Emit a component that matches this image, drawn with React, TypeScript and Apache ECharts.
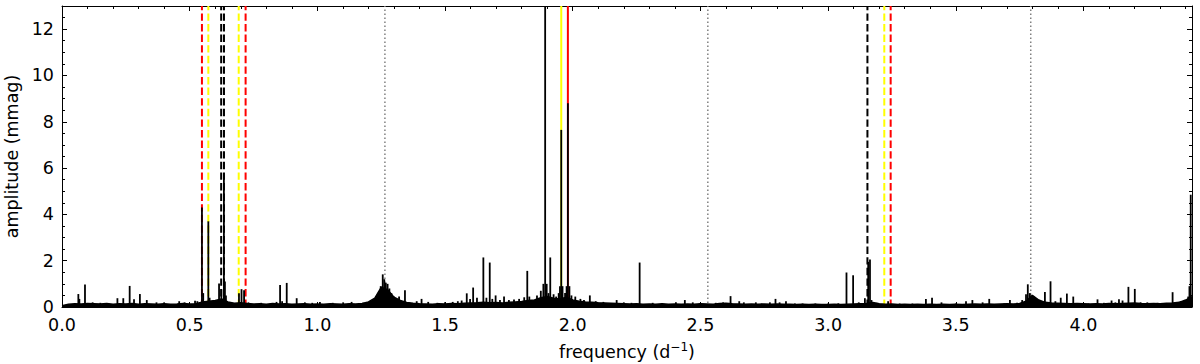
import React, { useEffect, useRef } from "react";
import * as echarts from "echarts";

// Noise floor of the amplitude spectrum: [frequency (d^-1), amplitude (mmag)]
const baseline: [number, number][] = [
  [0.000, 0.06], [0.025, 0.12], [0.050, 0.14], [0.075, 0.13], [0.100, 0.15], [0.125, 0.14], [0.150, 0.13], [0.175, 0.15],
  [0.200, 0.12], [0.225, 0.14], [0.250, 0.13], [0.275, 0.15], [0.300, 0.12], [0.325, 0.14], [0.350, 0.13], [0.375, 0.12],
  [0.400, 0.14], [0.425, 0.12], [0.450, 0.13], [0.475, 0.15], [0.500, 0.13], [0.525, 0.14], [0.550, 0.22], [0.575, 0.25],
  [0.600, 0.28], [0.625, 0.35], [0.650, 0.22], [0.675, 0.16], [0.700, 0.18], [0.725, 0.15], [0.750, 0.13], [0.775, 0.14],
  [0.800, 0.12], [0.825, 0.15], [0.850, 0.13], [0.875, 0.14], [0.900, 0.12], [0.925, 0.13], [0.950, 0.14], [0.975, 0.12],
  [1.000, 0.13], [1.025, 0.12], [1.050, 0.14], [1.075, 0.13], [1.100, 0.12], [1.125, 0.14], [1.150, 0.13], [1.175, 0.15],
  [1.200, 0.22], [1.225, 0.38], [1.250, 0.85], [1.275, 0.75], [1.300, 0.42], [1.325, 0.28], [1.350, 0.20], [1.375, 0.16],
  [1.400, 0.14], [1.425, 0.13], [1.450, 0.12], [1.475, 0.14], [1.500, 0.13], [1.525, 0.15], [1.550, 0.14], [1.575, 0.16],
  [1.600, 0.17], [1.625, 0.18], [1.650, 0.20], [1.675, 0.18], [1.700, 0.19], [1.725, 0.17], [1.750, 0.20], [1.775, 0.22],
  [1.800, 0.24], [1.825, 0.28], [1.850, 0.30], [1.875, 0.40], [1.900, 0.45], [1.925, 0.38], [1.950, 0.35], [1.975, 0.42],
  [2.000, 0.30], [2.025, 0.25], [2.050, 0.22], [2.075, 0.20], [2.100, 0.18], [2.125, 0.17], [2.150, 0.16], [2.175, 0.15],
  [2.200, 0.14], [2.225, 0.13], [2.250, 0.14], [2.275, 0.12], [2.300, 0.13], [2.325, 0.12], [2.350, 0.14], [2.375, 0.12],
  [2.400, 0.13], [2.425, 0.12], [2.450, 0.13], [2.475, 0.12], [2.500, 0.14], [2.525, 0.13], [2.550, 0.12], [2.575, 0.15],
  [2.600, 0.16], [2.625, 0.14], [2.650, 0.13], [2.675, 0.12], [2.700, 0.13], [2.725, 0.12], [2.750, 0.13], [2.775, 0.12],
  [2.800, 0.13], [2.825, 0.12], [2.850, 0.12], [2.875, 0.11], [2.900, 0.12], [2.925, 0.11], [2.950, 0.12], [2.975, 0.11],
  [3.000, 0.11], [3.025, 0.12], [3.050, 0.11], [3.075, 0.12], [3.100, 0.13], [3.125, 0.14], [3.150, 0.15], [3.175, 0.20],
  [3.200, 0.14], [3.225, 0.12], [3.250, 0.13], [3.275, 0.11], [3.300, 0.12], [3.325, 0.11], [3.350, 0.12], [3.375, 0.11],
  [3.400, 0.12], [3.425, 0.11], [3.450, 0.12], [3.475, 0.11], [3.500, 0.12], [3.525, 0.11], [3.550, 0.12], [3.575, 0.13],
  [3.600, 0.12], [3.625, 0.13], [3.650, 0.12], [3.675, 0.13], [3.700, 0.14], [3.725, 0.13], [3.750, 0.15], [3.775, 0.25],
  [3.800, 0.50], [3.825, 0.30], [3.850, 0.20], [3.875, 0.17], [3.900, 0.16], [3.925, 0.15], [3.950, 0.14], [3.975, 0.15],
  [4.000, 0.14], [4.025, 0.13], [4.050, 0.14], [4.075, 0.13], [4.100, 0.15], [4.125, 0.14], [4.150, 0.15], [4.175, 0.16],
  [4.200, 0.17], [4.225, 0.15], [4.250, 0.14], [4.275, 0.15], [4.300, 0.14], [4.325, 0.16], [4.350, 0.17], [4.375, 0.20],
  [4.400, 0.30], [4.425, 0.45],
];

// Spectral peaks: [frequency (d^-1), amplitude (mmag)]
const peaks: [number, number][] = [
  [0.064, 0.56], [0.068, 0.35], [0.090, 0.97], [0.120, 0.20], [0.150, 0.18], [0.217, 0.38], [0.240, 0.38],
  [0.265, 0.91], [0.282, 0.33], [0.305, 0.56], [0.332, 0.30], [0.370, 0.20], [0.400, 0.20], [0.459, 0.25],
  [0.480, 0.20], [0.521, 0.27], [0.530, 0.25], [0.548, 4.30], [0.553, 0.60], [0.573, 3.70], [0.578, 0.40],
  [0.615, 1.02], [0.624, 0.75], [0.634, 5.70], [0.638, 1.10], [0.642, 0.50], [0.693, 0.59], [0.703, 0.77],
  [0.713, 0.72], [0.730, 0.20], [0.780, 0.18], [0.840, 0.22], [0.854, 0.95], [0.862, 0.25], [0.880, 1.04],
  [0.919, 0.38], [0.951, 0.20], [0.980, 0.18], [1.010, 0.22], [1.060, 0.18], [1.101, 0.20], [1.134, 0.22],
  [1.180, 0.18], [1.240, 0.60], [1.248, 0.90], [1.256, 1.41], [1.262, 1.20], [1.268, 1.05], [1.275, 1.00],
  [1.282, 0.80], [1.290, 0.60], [1.300, 0.45], [1.320, 0.45], [1.343, 0.72], [1.389, 0.25], [1.408, 0.35],
  [1.434, 0.22], [1.470, 0.18], [1.500, 0.20], [1.530, 0.22], [1.550, 0.25], [1.565, 0.28], [1.585, 0.59],
  [1.598, 0.35], [1.610, 0.84], [1.625, 0.40], [1.650, 2.14], [1.662, 0.40], [1.675, 1.92], [1.685, 0.35],
  [1.698, 0.50], [1.715, 0.30], [1.731, 0.45], [1.750, 0.30], [1.770, 0.32], [1.790, 0.35], [1.810, 0.42],
  [1.822, 1.56], [1.830, 0.45], [1.860, 0.50], [1.875, 0.70], [1.885, 1.00], [1.892, 13.5], [1.898, 1.00],
  [1.905, 0.60], [1.912, 2.14], [1.925, 0.55], [1.935, 0.45], [1.945, 0.60], [1.950, 0.90], [1.955, 7.65],
  [1.960, 0.90], [1.970, 0.60], [1.976, 0.90], [1.981, 8.80], [1.987, 0.90], [1.995, 0.50], [2.010, 0.45],
  [2.030, 0.35], [2.044, 0.30], [2.067, 0.50], [2.090, 0.25], [2.120, 0.22], [2.172, 0.30], [2.200, 0.20],
  [2.230, 0.18], [2.262, 1.92], [2.313, 0.18], [2.350, 0.16], [2.404, 0.20], [2.439, 0.30], [2.470, 0.20],
  [2.500, 0.16], [2.560, 0.18], [2.589, 0.20], [2.618, 0.47], [2.652, 0.25], [2.670, 0.20], [2.717, 0.20],
  [2.740, 0.15], [2.772, 0.20], [2.794, 0.35], [2.810, 0.20], [2.835, 0.25], [2.870, 0.15], [2.900, 0.15],
  [2.950, 0.15], [3.000, 0.15], [3.040, 0.16], [3.072, 1.49], [3.098, 1.37], [3.120, 0.20], [3.144, 0.38],
  [3.157, 1.95], [3.164, 2.05], [3.170, 0.30], [3.190, 0.18], [3.235, 0.25], [3.280, 0.15], [3.330, 0.15],
  [3.383, 0.35], [3.407, 0.40], [3.444, 0.20], [3.500, 0.15], [3.540, 0.25], [3.565, 0.30], [3.605, 0.20],
  [3.631, 0.35], [3.690, 0.15], [3.712, 0.30], [3.740, 0.18], [3.760, 0.30], [3.775, 0.55], [3.782, 0.98],
  [3.790, 0.60], [3.796, 0.50], [3.805, 0.45], [3.815, 0.30], [3.849, 0.65], [3.871, 1.11], [3.890, 0.25],
  [3.911, 0.40], [3.935, 0.58], [3.960, 0.45], [3.990, 0.15], [4.020, 0.15], [4.055, 0.33], [4.080, 0.18],
  [4.110, 0.28], [4.125, 0.20], [4.139, 0.33], [4.153, 0.28], [4.176, 0.87], [4.201, 0.78], [4.224, 0.20],
  [4.250, 0.20], [4.290, 0.18], [4.320, 0.17], [4.349, 0.64], [4.380, 0.25], [4.400, 0.30], [4.410, 0.45],
  [4.415, 0.90], [4.420, 4.85],
];

// Vertical marker lines (frequencies, d^-1)
const redDashed = [0.548, 0.719, 3.245];
const yellowDashed = [0.573, 0.692, 3.22];
const blackDashed = [0.6233, 0.6343, 3.154];
const yellowSolid = [1.955];
const redSolid = [1.981];
const grayDotted = [1.2645, 2.529, 3.7935];

const xTicks = { min: 0, max: 4.425, interval: 0.5 };
const yTicks = { min: 0, max: 13, interval: 2 };

const FONT = "DejaVu Sans";
const FS = 17.5;

export default function App() {
  const ref = useRef<HTMLDivElement>(null);
  useEffect(() => {
    document.body.style.margin = "0";
    if (!ref.current) return;
    const chart = echarts.init(ref.current, null, { renderer: "svg" });

    const lineStyles: Record<string, { stroke: string; lineDash?: number[]; lineWidth: number }> = {
      red: { stroke: "#ff0000", lineDash: [7.4, 3.2], lineWidth: 2 },
      yellow: { stroke: "#ffff00", lineDash: [7.4, 3.2], lineWidth: 2 },
      black: { stroke: "#000000", lineDash: [7.4, 3.2], lineWidth: 2 },
      yellowSolid: { stroke: "#ffff00", lineWidth: 2 },
      redSolid: { stroke: "#ff0000", lineWidth: 2 },
      gray: { stroke: "#808080", lineDash: [1.5, 2.5], lineWidth: 1.5 },
    };
    const vlines: [number, string][] = [
      ...grayDotted.map((f) => [f, "gray"] as [number, string]),
      ...redDashed.map((f) => [f, "red"] as [number, string]),
      ...yellowDashed.map((f) => [f, "yellow"] as [number, string]),
      ...blackDashed.map((f) => [f, "black"] as [number, string]),
      ...yellowSolid.map((f) => [f, "yellowSolid"] as [number, string]),
      ...redSolid.map((f) => [f, "redSolid"] as [number, string]),
    ];

    const axisCommonX = {
      type: "value" as const,
      min: xTicks.min,
      max: xTicks.max,
      interval: xTicks.interval,
      axisLine: { show: true, onZero: false, lineStyle: { color: "#000", width: 1 } },
      axisTick: { show: true, inside: true, length: 5, lineStyle: { color: "#000", width: 1 } },
      minorTick: { show: true, splitNumber: 5, length: 3, lineStyle: { color: "#000", width: 1 } },
      splitLine: { show: false },
    };
    const axisCommonY = {
      type: "value" as const,
      min: yTicks.min,
      max: yTicks.max,
      interval: yTicks.interval,
      axisLine: { show: true, onZero: false, lineStyle: { color: "#000", width: 1 } },
      axisTick: { show: true, inside: true, length: 5, lineStyle: { color: "#000", width: 1 } },
      minorTick: { show: true, splitNumber: 4, length: 3, lineStyle: { color: "#000", width: 1 } },
      splitLine: { show: false },
    };

    chart.setOption({
      animation: false,
      grid: { left: 62, right: 8, top: 6, bottom: 57, containLabel: false, outerBoundsMode: "none" },
      xAxis: [
        {
          ...axisCommonX,
          position: "bottom",
          axisLabel: {
            show: true,
            margin: 10,
            fontSize: FS,
            lineHeight: 16,
            color: "#000",
            fontFamily: FONT,
            showMaxLabel: false,
            formatter: (v: number) => v.toFixed(1),
          },
          name: "frequency (d{sup|−1})",
          nameLocation: "middle",
          nameGap: 34,
          nameTextStyle: {
            fontSize: FS,
            color: "#000",
            fontFamily: FONT,
            lineHeight: 21,
            rich: { sup: { fontSize: 12, fontFamily: FONT, color: "#000", verticalAlign: "top", lineHeight: 12 } },
          },
        },
        { ...axisCommonX, position: "top", axisLabel: { show: false } },
      ],
      yAxis: [
        {
          ...axisCommonY,
          position: "left",
          axisLabel: {
            show: true,
            margin: 8,
            fontSize: FS,
            lineHeight: 16,
            color: "#000",
            fontFamily: FONT,
            showMaxLabel: false,
          },
          name: "amplitude (mmag)",
          nameLocation: "middle",
          nameGap: 30,
          nameTextStyle: { fontSize: FS, color: "#000", fontFamily: FONT },
        },
        { ...axisCommonY, position: "right", axisLabel: { show: false } },
      ],
      series: [
        {
          type: "custom",
          z: 1,
          xAxisIndex: 0,
          yAxisIndex: 0,
          clip: true,
          silent: true,
          data: vlines.map((v) => [v[0], 0, v[1]]),
          encode: { x: 0, y: 1 },
          renderItem: (params: any, api: any) => {
            const f = api.value(0);
            const key = vlines[params.dataIndex][1];
            const p0 = api.coord([f, yTicks.min]);
            const p1 = api.coord([f, yTicks.max]);
            const s = lineStyles[key];
            return {
              type: "line",
              shape: { x1: p0[0], y1: p0[1], x2: p1[0], y2: p1[1] },
              style: { stroke: s.stroke, lineWidth: s.lineWidth, lineDash: s.lineDash || null, fill: null },
            };
          },
        },
        {
          type: "line",
          z: 2,
          xAxisIndex: 0,
          yAxisIndex: 0,
          data: baseline,
          showSymbol: false,
          symbol: "none",
          lineStyle: { color: "#000", width: 1.5 },
          areaStyle: { color: "#000", opacity: 1 },
          silent: true,
        },
        {
          type: "custom",
          z: 3,
          xAxisIndex: 0,
          yAxisIndex: 0,
          clip: true,
          silent: true,
          data: peaks,
          encode: { x: 0, y: 1 },
          renderItem: (params: any, api: any) => {
            const p0 = api.coord([api.value(0), 0]);
            const p1 = api.coord([api.value(0), api.value(1)]);
            return {
              type: "line",
              shape: { x1: p0[0], y1: p0[1], x2: p1[0], y2: p1[1] },
              style: { stroke: "#000", lineWidth: 1.8 },
            };
          },
        },
      ],
    });
    return () => chart.dispose();
  }, []);
  return <div ref={ref} style={{ width: 1200, height: 364 }} />;
}
